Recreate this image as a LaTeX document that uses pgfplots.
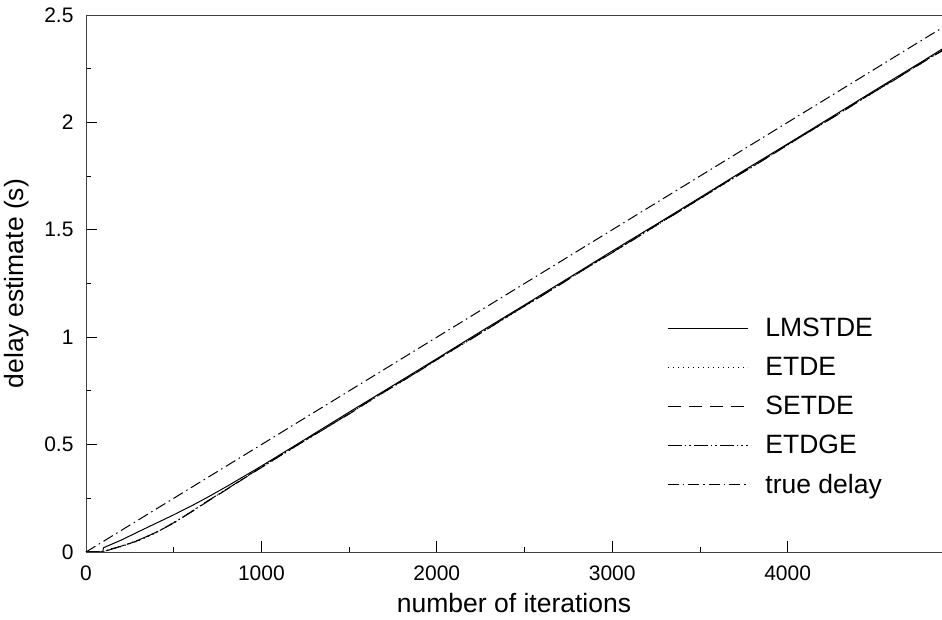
\documentclass[border=0pt]{standalone}
\usepackage{pgfplots}
\pgfplotsset{compat=1.18}
\usepackage{fontspec}
\setmainfont{Liberation Sans}
\begin{document}
\begin{tikzpicture}
\begin{axis}[
  name=ax,
  scale only axis,
  width=856pt, height=537pt,
  xmin=0, xmax=4880, ymin=0, ymax=2.5,
  separate axis lines,
  axis x line=box, axis y line=left,
  axis line style={-, black!75, line width=0.8pt},
  xtick={0,1000,2000,3000,4000},
  ytick={0,0.5,1,1.5,2,2.5},
  minor x tick num=1, minor y tick num=1,
  xtick pos=bottom, ytick pos=left,
  tick align=inside,
  major tick length=11pt, minor tick length=5pt,
  every tick/.style={black, line width=0.8pt},
  scaled x ticks=false,
  /pgf/number format/1000 sep={},
  /pgf/number format/assume math mode=true,
  ticklabel style={font=\fontsize{21}{23}\selectfont},
  xticklabel style={yshift=-10pt},
  yticklabel style={xshift=-9pt},
  xlabel={number of iterations},
  ylabel={delay estimate (s)},
  label style={font=\fontsize{26.5}{29}\selectfont},
  xlabel style={yshift=-6pt},
  ylabel style={yshift=8pt},
  legend cell align=left,
  legend image code/.code={\draw[#1] (0pt,0pt) -- (80pt,0pt);},
  legend style={draw=none, fill=none, at={(rel axis cs:0.679,0.439)}, anchor=north west,
    font=\fontsize{26.5}{29}\selectfont, row sep=15pt, column sep=15pt, inner sep=0pt,
    nodes={inner sep=2pt, font=\fontsize{26.5}{29}\selectfont}},
  every axis plot/.append style={black, line width=1pt},
]
\addplot[solid] coordinates {
(0,0) (95,0) (100,0.02) (200,0.055) (300,0.095) (400,0.134) (500,0.173) (600,0.214)
(700,0.258) (800,0.304) (900,0.352) (1000,0.400) (1250,0.525) (1500,0.651) (1750,0.775)
(2000,0.900) (2250,1.026) (2500,1.150) (2750,1.275) (3000,1.401) (3250,1.525) (3500,1.650)
(3750,1.776) (4000,1.900) (4250,2.025) (4500,2.151) (4750,2.275) (4880,2.341)};
\addlegendentry{LMSTDE}
\addplot[dash pattern=on 1pt off 4pt] coordinates {
(0,0) (100,0) (105,0.003) (150,0.015) (200,0.025) (300,0.052) (400,0.090) (500,0.137)
(600,0.188) (700,0.240) (800,0.292) (900,0.343) (1000,0.394) (1200,0.493) (1400,0.596)
(1600,0.693) (1800,0.797) (2000,0.894) (2200,0.996) (2400,1.093) (2600,1.197) (2800,1.294)
(3000,1.397) (3200,1.493) (3400,1.596) (3600,1.694) (3800,1.797) (4000,1.894) (4200,1.997)
(4400,2.094) (4600,2.196) (4800,2.294) (4880,2.336)};
\addlegendentry{ETDE}
\addplot[dash pattern=on 13pt off 8pt] coordinates {
(0,0) (100,0) (105,0.003) (150,0.014) (200,0.026) (300,0.054) (400,0.092) (500,0.136)
(600,0.186) (700,0.239) (800,0.290) (900,0.342) (1000,0.393) (1100,0.445) (1300,0.546)
(1500,0.642) (1700,0.747) (1900,0.843) (2100,0.947) (2300,1.044) (2500,1.146) (2700,1.243)
(2900,1.347) (3100,1.443) (3300,1.546) (3500,1.644) (3700,1.747) (3900,1.844) (4100,1.946)
(4300,2.043) (4500,2.147) (4700,2.244) (4880,2.334)};
\addlegendentry{SETDE}
\addplot[dash pattern=on 14pt off 3pt on 1.5pt off 3pt on 1.5pt off 3pt] coordinates {
(0,0) (100,0) (105,0.004) (150,0.016) (200,0.027) (300,0.056) (400,0.091) (500,0.135)
(600,0.187) (700,0.241) (800,0.291) (900,0.344) (1000,0.395) (1200,0.495) (1400,0.593)
(1600,0.696) (1800,0.793) (2000,0.897) (2200,0.993) (2400,1.096) (2600,1.193) (2800,1.297)
(3000,1.393) (3200,1.497) (3400,1.594) (3600,1.697) (3800,1.793) (4000,1.897) (4200,1.994)
(4400,2.097) (4600,2.193) (4800,2.297) (4880,2.332)};
\addlegendentry{ETDGE}
\addplot[dash pattern=on 11pt off 4pt on 1.5pt off 4pt] coordinates {
(0,0) (4880,2.44)};
\addlegendentry{true delay}
\coordinate (o) at (rel axis cs:0,0);
\coordinate (t) at (rel axis cs:1,1);
\end{axis}
\pgfresetboundingbox
\useasboundingbox ([shift={(-86pt,-68pt)}]o) rectangle ([shift={(0pt,15pt)}]t);
\end{tikzpicture}
\end{document}
